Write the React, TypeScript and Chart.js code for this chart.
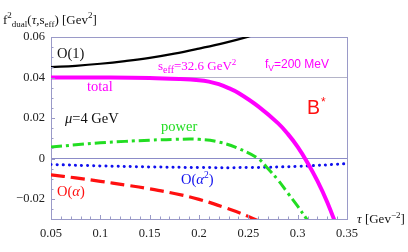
import { useEffect, useRef } from "react";
import { Chart, registerables } from "chart.js";

Chart.register(...registerables);

// ---- data ----
const tauO1 = [0.05, 0.075, 0.1, 0.125, 0.15, 0.175, 0.2, 0.225, 0.25, 0.275];
const valO1 = [0.0451, 0.0458, 0.0468, 0.0481, 0.0497, 0.0518, 0.0543, 0.057, 0.0602, 0.064];

const tauTotal = [0.05, 0.1, 0.15, 0.18, 0.2, 0.21, 0.22, 0.23, 0.24, 0.26, 0.28, 0.29, 0.3, 0.31, 0.32, 0.33, 0.34];
const valTotal = [0.04, 0.04, 0.0398, 0.0393, 0.0387, 0.038, 0.0367, 0.0348, 0.0324, 0.0258, 0.0175, 0.0122, 0.0058, -0.002, -0.011, -0.0215, -0.034];

const tauPower = [0.05, 0.075, 0.1, 0.125, 0.15, 0.175, 0.2, 0.22, 0.24, 0.26, 0.27, 0.28, 0.29, 0.3, 0.31, 0.32];
const valPower = [0.0057, 0.0068, 0.0078, 0.0085, 0.0091, 0.0095, 0.0095, 0.0082, 0.005, 0.0, -0.005, -0.0105, -0.017, -0.0235, -0.0305, -0.038];

const tauA2 = [0.05, 0.1, 0.15, 0.2, 0.25, 0.3, 0.35];
const valA2 = [-0.0029, -0.0036, -0.0041, -0.0044, -0.0044, -0.0038, -0.0025];

const tauA = [0.05, 0.075, 0.1, 0.125, 0.15, 0.175, 0.2, 0.225, 0.25, 0.27];
const valA = [-0.008, -0.0095, -0.0112, -0.013, -0.0149, -0.0172, -0.0201, -0.024, -0.0285, -0.033];

const xTicks = [0.05, 0.1, 0.15, 0.2, 0.25, 0.3, 0.35];
const xTickLabels = ["0.05", "0.1", "0.15", "0.2", "0.25", "0.3", "0.35"];
const yTicks = [-0.02, 0, 0.02, 0.04, 0.06];
const yTickLabels = ["\u22120.02", "0", "0.02", "0.04", "0.06"];

const X_MIN = 0.05;
const X_MAX = 0.35;
const Y_MIN = -0.0298;
const Y_MAX = 0.06;

const FRAME = "#9a9ac8";
const LINE04 = "#b4b4c8";
const LINE0 = "#8c8cc8";
const MAGENTA = "#ff00ff";
const GREEN = "#22dd22";
const BLUE = "#1010ee";
const RED = "#ff1010";
const SERIF = "'Liberation Serif', 'DejaVu Serif', serif";
const SANS = "'Liberation Sans', Arial, sans-serif";

type Part = [string, string, string, number];

function rich(ctx: CanvasRenderingContext2D, x: number, y: number, parts: Part[]) {
  let cx = x;
  for (const [text, font, color, dy] of parts) {
    ctx.font = font;
    ctx.fillStyle = color;
    ctx.fillText(text, cx, y + dy);
    cx += ctx.measureText(text).width;
  }
}

const pts = (t: number[], v: number[]) => t.map((x, i) => ({ x, y: v[i] }));

const annotations = {
  id: "annotations",
  afterDraw(chart: any) {
    const ctx: CanvasRenderingContext2D = chart.ctx;
    const xs = chart.scales.x;
    const ys = chart.scales.y;
    const area = chart.chartArea;
    ctx.save();
    // minor ticks
    ctx.strokeStyle = FRAME;
    ctx.lineWidth = 1;
    ctx.beginPath();
    for (let i = 0; i <= 30; i++) {
      const v = X_MIN + i * 0.01;
      const px = Math.round(xs.getPixelForValue(v)) + 0.5;
      const len = i % 5 === 0 ? 4 : 2.5;
      ctx.moveTo(px, area.bottom);
      ctx.lineTo(px, area.bottom - len);
    }
    for (let i = -6; i <= 12; i++) {
      const v = i * 0.005;
      if (v < Y_MIN) continue;
      const py = Math.round(ys.getPixelForValue(v)) + 0.5;
      const len = i % 4 === 0 ? 4 : 2.5;
      ctx.moveTo(area.left, py);
      ctx.lineTo(area.left + len, py);
    }
    ctx.stroke();

    ctx.textBaseline = "alphabetic";
    ctx.textAlign = "left";
    const f = (s: number, it = false, fam = SERIF) => `${it ? "italic " : ""}${s}px ${fam}`;
    const K = "#111";
    // axis titles
    rich(ctx, 3, 24, [
      ["f", f(13), K, 0],
      ["2", f(9), K, -6],
      ["dual", f(9), K, 3],
      ["(", f(13), K, 0],
      ["\u03c4", f(13, true), K, 0],
      [",s", f(13), K, 0],
      ["eff", f(9), K, 3],
      [") [Gev", f(13), K, 0],
      ["2", f(9), K, -6],
      ["]", f(13), K, 0],
    ]);
    rich(ctx, 357, 223, [
      ["\u03c4", f(13, true), K, 0],
      [" [Gev", f(13), K, 0],
      ["\u22122", f(9), K, -5],
      ["]", f(13), K, 0],
    ]);
    // curve labels
    rich(ctx, 57, 58, [["O(1)", f(14.5), K, 0]]);
    rich(ctx, 87, 91, [["total", f(14.5), MAGENTA, 0]]);
    rich(ctx, 65, 123, [
      ["\u03bc", f(14.5, true), K, 0],
      ["=4 GeV", f(14.5), K, 0],
    ]);
    rich(ctx, 161, 131, [["power", f(14.5), GREEN, 0]]);
    rich(ctx, 181, 184, [
      ["O(", f(14.5), BLUE, 0],
      ["\u03b1", f(14.5, true), BLUE, 0],
      ["2", f(9.5), BLUE, -6],
      [")", f(14.5), BLUE, 0],
    ]);
    rich(ctx, 57, 196, [
      ["O(", f(14.5), RED, 0],
      ["\u03b1", f(14.5, true), RED, 0],
      [")", f(14.5), RED, 0],
    ]);
    rich(ctx, 158, 70, [
      ["s", f(13), MAGENTA, 0],
      ["eff", f(10), MAGENTA, 3],
      ["=32.6 GeV", f(13), MAGENTA, 0],
      ["2", f(9), MAGENTA, -5],
    ]);
    rich(ctx, 265, 68, [
      ["f", f(12, false, SANS), MAGENTA, 0],
      ["V", f(8.5, false, SANS), MAGENTA, 3],
      ["=200 MeV", f(12, false, SANS), MAGENTA, 0],
    ]);
    rich(ctx, 307, 114, [["B", f(19.5, false, SANS), RED, 0]]);
    rich(ctx, 321, 106, [["*", f(12, false, SANS), RED, 0]]);
    ctx.restore();
  },
};

export default function App() {
  const ref = useRef<HTMLCanvasElement | null>(null);
  useEffect(() => {
    document.body.style.margin = "0";
    const canvas = ref.current;
    if (!canvas) return;
    const common = { pointRadius: 0, fill: false, tension: 0.4 };
    const chart = new Chart(canvas, {
      type: "line",
      data: {
        datasets: [
          { ...common, label: "O(1)", data: pts(tauO1, valO1), borderColor: "#000", borderWidth: 2.2 },
          { ...common, label: "total", data: pts(tauTotal, valTotal), borderColor: MAGENTA, borderWidth: 4 },
          {
            ...common,
            label: "power",
            data: pts(tauPower, valPower),
            borderColor: GREEN,
            borderWidth: 3,
            borderDash: [11, 4, 3, 4],
          },
          {
            ...common,
            label: "O(a2)",
            data: pts(tauA2, valA2),
            borderColor: BLUE,
            borderWidth: 3,
            borderDash: [0.1, 6],
            borderCapStyle: "round",
          },
          {
            ...common,
            label: "O(a)",
            data: pts(tauA, valA),
            borderColor: RED,
            borderWidth: 3.2,
            borderDash: [14, 6],
          },
        ],
      },
      options: {
        responsive: false,
        animation: false,
        layout: { padding: { top: 37, right: 61, left: 0, bottom: 0 } },
        plugins: { legend: { display: false }, tooltip: { enabled: false } },
        scales: {
          x: {
            type: "linear",
            min: X_MIN,
            max: X_MAX,
            afterBuildTicks: (s: any) => {
              s.ticks = xTicks.map((value) => ({ value }));
            },
            afterFit: (s: any) => {
              s.height = 33;
            },
            ticks: {
              padding: 7,
              color: "#222",
              font: { family: SERIF, size: 12.5 },
              maxRotation: 0,
              autoSkip: false,
              callback: (v: any) => xTickLabels[xTicks.findIndex((t) => Math.abs(t - Number(v)) < 1e-9)] ?? "",
            },
            grid: {
              drawTicks: false,
              color: (c: any) => (c.tick && Math.abs(c.tick.value - X_MAX) < 1e-9 ? FRAME : "rgba(0,0,0,0)"),
            },
            border: { display: true, color: FRAME, width: 1 },
          },
          y: {
            type: "linear",
            min: Y_MIN,
            max: Y_MAX,
            afterBuildTicks: (s: any) => {
              s.ticks = yTicks.map((value) => ({ value }));
            },
            afterFit: (s: any) => {
              s.width = 51;
            },
            ticks: {
              padding: 6,
              color: "#222",
              font: { family: SERIF, size: 12.5 },
              autoSkip: false,
              callback: (v: any) => yTickLabels[yTicks.findIndex((t) => Math.abs(t - Number(v)) < 1e-9)] ?? "",
            },
            grid: {
              drawTicks: false,
              color: (c: any) => {
                const v = c.tick ? c.tick.value : NaN;
                if (Math.abs(v - Y_MAX) < 1e-9) return FRAME;
                if (Math.abs(v - 0.04) < 1e-9) return LINE04;
                if (Math.abs(v) < 1e-9) return LINE0;
                return "rgba(0,0,0,0)";
              },
            },
            border: { display: true, color: FRAME, width: 1 },
          },
        },
      },
      plugins: [annotations],
    });
    return () => chart.destroy();
  }, []);
  return (
    <div style={{ position: "fixed", left: 0, top: 0, width: 408, height: 252, background: "#fff" }}>
      <canvas ref={ref} width={408} height={252} />
    </div>
  );
}
